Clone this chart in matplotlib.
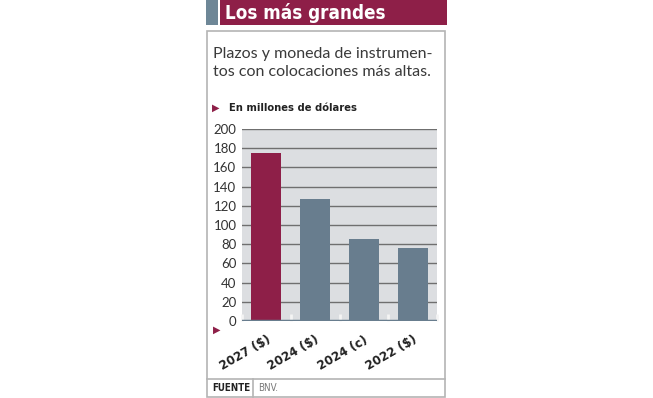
import matplotlib
matplotlib.use("Agg")
import matplotlib.pyplot as plt
from matplotlib.patches import Rectangle
from matplotlib.lines import Line2D

# data
categories = ["2027 ($)", "2024 ($)", "2024 (c)", "2022 ($)"]
values = [175, 127, 85, 76]
bar_colors = ["#8e1f48", "#687d8e", "#687d8e", "#687d8e"]
yticks = list(range(0, 201, 20))

title = "Los más grandes"
subtitle = "Plazos y moneda de instrumen-\ntos con colocaciones más altas."
unit_label = "En millones de dólares"
source_label = "FUENTE"
source_text = "BNV."

W, H = 653, 398
COND = dict(family="DejaVu Sans", stretch="condensed")
MAROON = "#8e1f48"


def fx(px):
    return px / W


def fy(py):
    return 1 - py / H


fig = plt.figure(figsize=(W / 100, H / 100), dpi=100)
fig.patch.set_facecolor("white")

# header bar
fig.patches.append(Rectangle((fx(206), fy(25)), fx(12), 25 / H,
                             transform=fig.transFigure, fc="#6e8797", ec="none"))
fig.patches.append(Rectangle((fx(220), fy(25)), fx(227), 25 / H,
                             transform=fig.transFigure, fc=MAROON, ec="none"))
fig.text(fx(225), fy(13), title, color="white", fontsize=13.5, fontweight="bold",
         va="center", ha="left", **COND)

# frame
fig.patches.append(Rectangle((fx(207), fy(397)), fx(238), 366 / H,
                             transform=fig.transFigure, fc="none", ec="#b4b4b4", lw=1.2))
fig.lines.append(Line2D([fx(207), fx(445)], [fy(379), fy(379)],
                        transform=fig.transFigure, color="#b4b4b4", lw=1.2))
fig.lines.append(Line2D([fx(253), fx(253)], [fy(379), fy(397)],
                        transform=fig.transFigure, color="#b4b4b4", lw=1.2))

fig.text(fx(213), fy(63), subtitle, fontsize=11.5, family="Lato", color="#3a3a3a",
         va="center", ha="left", linespacing=1.3)

fig.text(fx(212), fy(108), "\u25B6", fontsize=7, color=MAROON, va="center",
         ha="left", family="DejaVu Sans")
fig.text(fx(229), fy(108), unit_label, fontsize=8, fontweight="bold",
         color="#222222", va="center", ha="left", **COND)
fig.text(fx(213), fy(330), "\u25B6", fontsize=7, color=MAROON, va="center",
         ha="left", family="DejaVu Sans")

fig.text(fx(212), fy(388), source_label, fontsize=7, fontweight="bold",
         color="#222222", va="center", ha="left", **COND)
fig.text(fx(258), fy(388), source_text, fontsize=7,
         color="#777777", va="center", ha="left", **COND)

# chart
ax = fig.add_axes([fx(242), fy(321), fx(195), 192 / H])
ax.set_facecolor("#dcdee1")
x = list(range(len(categories)))
ax.bar(x, values, width=0.62, color=bar_colors, zorder=3)
ax.set_xlim(-0.5, 3.5)
ax.set_ylim(0, 200)
ax.set_yticks(yticks)
ax.set_yticklabels([str(v) for v in yticks], fontsize=9.5, family="Lato", color="#333333")
for v in yticks[1:]:
    ax.axhline(v, color="#6f6f6f", lw=1, zorder=2)
ax.axhline(0, color="#687d8e", lw=2.5, zorder=4)
for s in ax.spines.values():
    s.set_visible(False)
ax.tick_params(axis="y", length=0, pad=4)
ax.set_xticks([-0.5, 0.5, 1.5, 2.5, 3.5], minor=True)
ax.tick_params(axis="x", which="minor", direction="in", length=5, color="#f4f4f4", width=2)
ax.set_xticks(x)
ax.set_xticklabels(categories, rotation=30, ha="right", rotation_mode="anchor",
                   fontsize=9.5, fontweight="bold", color="#222222", **COND)
ax.tick_params(axis="x", which="major", length=0, pad=9)

fig.savefig("out.png", dpi=100)
